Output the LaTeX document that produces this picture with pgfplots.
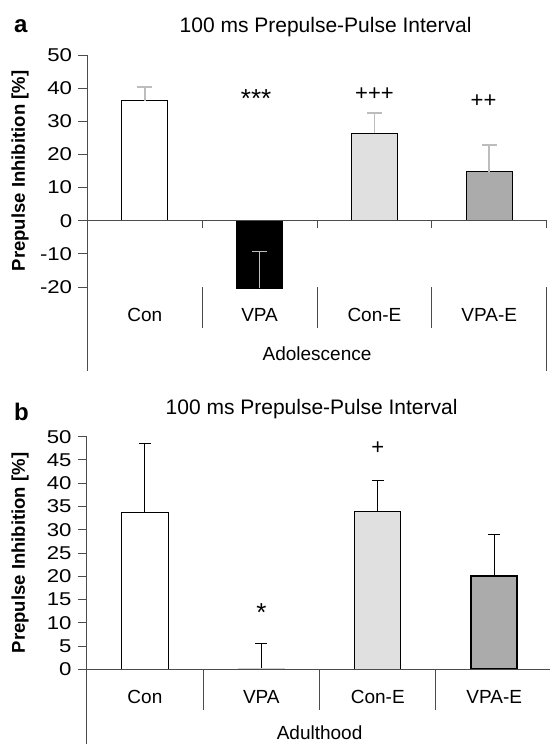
\documentclass[border=0pt]{standalone}
\usepackage{fontspec}
\setmainfont{Liberation Sans}
\newfontfamily\tickfont[FakeStretch=1.2]{Liberation Sans}
\usepackage{pgfplots}
\pgfplotsset{compat=1.18}

\definecolor{axisgray}{gray}{0.3}
\definecolor{lightbar}{HTML}{E0E0E0}
\definecolor{midbar}{HTML}{ABABAB}
\definecolor{errgray}{HTML}{BDBDBD}

\newcommand\fs[1]{\fontsize{#1}{#1}\selectfont}

\pgfplotsset{
  panel/.style={
    scale only axis, clip=false,
    xmin=0, xmax=4, enlargelimits=false,
    axis x line=none,
    axis y line*=left,
    axis line style={axisgray, line width=1pt},
    ytick style={axisgray, line width=1pt},
    tick align=outside,
    major tick length=9pt,
    yticklabel style={font=\tickfont\fs{18.5}, inner sep=0pt},
    yticklabel shift=6pt,
    /pgf/number format/assume math mode=true,
    ybar, bar width=46.3pt, bar shift=0pt,
  },
  errA/.style={error bars/.cd, y dir=plus, y explicit,
    error bar style={errgray, line width=1.7pt},
    error mark options={rotate=90, errgray, line width=1.7pt, mark size=7.5pt}},
  errB/.style={error bars/.cd, y dir=plus, y explicit,
    error bar style={black, line width=1.1pt},
    error mark options={rotate=90, black, line width=1.1pt, mark size=6pt}},
}

\begin{document}
\begin{tikzpicture}[x=1pt,y=1pt]
% ---------- panel a ----------
\begin{axis}[panel,
  at={(87.3pt,-287pt)}, anchor=south west,
  width=459.4pt, height=232pt,
  ymin=-20, ymax=50, ytick={-20,-10,...,50}]
\addplot[fill=white, draw=black, line width=1pt, errA] coordinates {(0.5,36.2) +- (0,4.2)};
\addplot[fill=black, draw=black, line width=1pt, errA] coordinates {(1.5,-20.4) +- (0,11.1)};
\addplot[fill=lightbar, draw=black, line width=1pt, errA] coordinates {(2.5,26.4) +- (0,6.0)};
\addplot[fill=midbar, draw=black, line width=1pt, errA] coordinates {(3.5,14.8) +- (0,8.0)};
\draw[axisgray, line width=1pt] (axis cs:0,0) -- (axis cs:4,0);
\draw[axisgray, line width=1pt] (axis cs:1,0) -- (axis cs:1,-2.2);
\draw[axisgray, line width=1pt] (axis cs:2,0) -- (axis cs:2,-2.2);
\draw[axisgray, line width=1pt] (axis cs:3,0) -- (axis cs:3,-2.2);
\draw[axisgray, line width=1pt] (axis cs:4,0) -- (axis cs:4,-2.2);
\draw[axisgray, line width=1pt] (axis cs:1,-20) -- (axis cs:1,-32.4);
\draw[axisgray, line width=1pt] (axis cs:2,-20) -- (axis cs:2,-32.4);
\draw[axisgray, line width=1pt] (axis cs:3,-20) -- (axis cs:3,-32.4);
\draw[axisgray, line width=1pt] (axis cs:4,-20) -- (axis cs:4,-45.3);
\draw[axisgray, line width=1pt] (axis cs:0,-20) -- (axis cs:0,-45.3);
\node[font=\fs{19}] at (axis cs:0.5,-28.5) {Con};
\node[font=\fs{19}] at (axis cs:1.5,-28.5) {VPA};
\node[font=\fs{19}] at (axis cs:2.5,-28.5) {Con-E};
\node[font=\fs{19}] at (axis cs:3.5,-28.5) {VPA-E};
\node[font=\fs{19}] at (axis cs:2,-40) {Adolescence};
\node[font=\fs{26}] at (axis cs:1.47,36.9) {***};
\node[font=\fs{22}] at (axis cs:2.5,38.1) {+++};
\node[font=\fs{22}] at (axis cs:3.45,36.0) {++};
\end{axis}
% ---------- panel b ----------
\begin{axis}[panel,
  at={(86.7pt,-669.3pt)}, anchor=south west,
  width=465.7pt, height=232.6pt,
  ymin=0, ymax=50, ytick={0,5,...,50}]
\addplot[fill=white, draw=black, line width=1.1pt, errB] coordinates {(0.5,33.7) +- (0,14.9)};
\addplot[fill=black, draw=gray!35, line width=1pt, errB] coordinates {(1.5,0.2) +- (0,5.4)};
\addplot[fill=lightbar, draw=black, line width=1.1pt, errB] coordinates {(2.5,34.0) +- (0,6.5)};
\addplot[fill=midbar, draw=black, line width=2.3pt, errB] coordinates {(3.5,20.1) +- (0,8.8)};
\draw[axisgray, line width=1pt] (axis cs:0,0) -- (axis cs:4,0);
\draw[axisgray, line width=1pt] (axis cs:1,0) -- (axis cs:1,-8.75);
\draw[axisgray, line width=1pt] (axis cs:2,0) -- (axis cs:2,-8.75);
\draw[axisgray, line width=1pt] (axis cs:3,0) -- (axis cs:3,-8.75);
\draw[axisgray, line width=1pt] (axis cs:0,0) -- (axis cs:0,-16.2);
\node[font=\fs{19}] at (axis cs:0.5,-6.0) {Con};
\node[font=\fs{19}] at (axis cs:1.5,-6.0) {VPA};
\node[font=\fs{19}] at (axis cs:2.5,-6.0) {Con-E};
\node[font=\fs{19}] at (axis cs:3.5,-6.0) {VPA-E};
\node[font=\fs{19}] at (axis cs:2,-13.6) {Adulthood};
\node[font=\fs{26}] at (axis cs:1.5,12.3) {*};
\node[font=\fs{22}] at (axis cs:2.5,47.6) {+};
\end{axis}
% ---------- titles and labels ----------
\node[font=\fs{21}, anchor=base] at (325.6,-32.3) {100 ms Prepulse-Pulse Interval};
\node[font=\fs{21}, anchor=base] at (311.6,-414.2) {100 ms Prepulse-Pulse Interval};
\node[font=\bfseries\fs{24}, anchor=base west] at (10.7,-32) {a};
\node[font=\bfseries\fs{24}, anchor=base west] at (10.7,-420) {b};
\node[font=\bfseries\fs{18.5}, rotate=90] at (20,-171) {Prepulse Inhibition [\%]};
\node[font=\bfseries\fs{18.5}, rotate=90] at (20,-553) {Prepulse Inhibition [\%]};
\pgfresetboundingbox
\path (0,0) rectangle (549,-744);
\end{tikzpicture}
\end{document}
